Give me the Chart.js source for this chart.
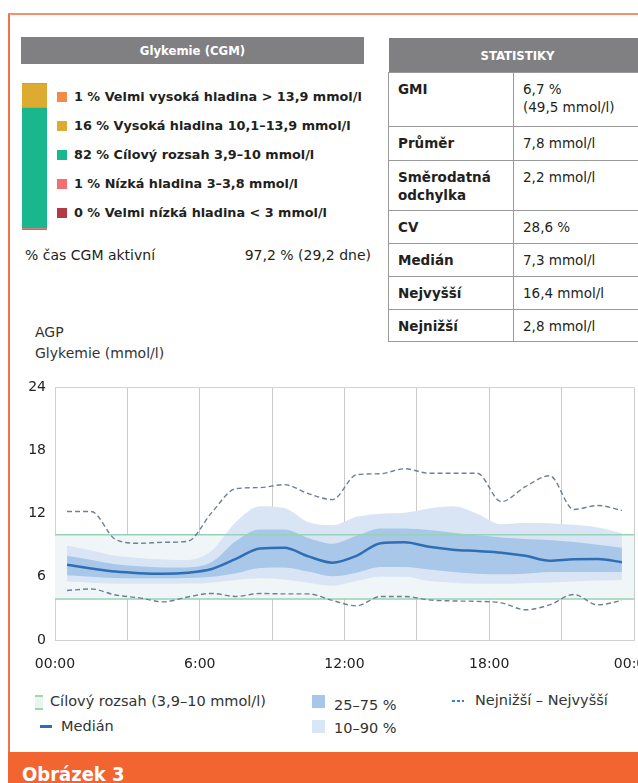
<!DOCTYPE html>
<html>
<head>
<meta charset="utf-8">
<script src="https://cdn.jsdelivr.net/npm/chart.js@4.4.1/dist/chart.umd.min.js"></script>
<style>
  body { margin: 0; width: 638px; height: 783px; overflow: hidden; background: #fff;
         font-family: 'DejaVu Sans', sans-serif; color: #231f20; position: relative; }
  .abs { position: absolute; }
  .cond { font-family: 'DejaVu Sans Condensed', 'DejaVu Sans', sans-serif; }
  .frame { left: 8px; top: 13px; width: 700px; height: 760px; border-top: 2px solid #f6906a; border-left: 2px solid #f27446; }
  .band { left: 8px; top: 752px; width: 640px; height: 40px; background: #f26531; }
  .band span { position: absolute; left: 14px; top: 10px; color: #fff; font-weight: bold; font-size: 20px; }
  .ghead { left: 21px; top: 37px; width: 343px; height: 27px; background: #808083; color: #fff; font-weight: bold; font-size: 13px; text-align: center; line-height: 27px; }
  .lrow { left: 57px; font-size: 12.8px; font-weight: bold; line-height: 16px; }
  .lrow i { display: inline-block; width: 10px; height: 10px; margin-right: 7px; vertical-align: -1px; }
  .stats { left: 388px; top: 38px; width: 272px; table-layout: fixed; border-collapse: collapse; font-size: 13.5px; }
  .stats th { background: #808083; color: #fff; height: 34px; padding: 0; font-weight: bold; text-align: left; text-indent: 92px; font-size: 13px; }
  .stats td { border: 1px solid #9a9a9a; vertical-align: top; padding: 7px 6px 0 9px; line-height: 18px; }
  .stats td.k { font-weight: bold; }
  .leg { font-size: 14.5px; color: #333; line-height: 18px; }
  .dash { height: 2px; background: repeating-linear-gradient(to right, #3f7fc6 0 3px, transparent 3px 5px); }
</style>
</head>
<body>
<div class="abs frame"></div>
<div class="abs ghead cond">Glykemie (CGM)</div>
<canvas id="tir" class="abs" width="25" height="147" style="left:22px;top:83px;width:25px;height:147px"></canvas>
<div id="tirLegend"></div>
<div class="abs" style="left:25px;top:247px;font-size:14px">% čas CGM aktivní</div>
<div class="abs" style="left:200px;width:171px;top:247px;font-size:14px;text-align:right">97,2 % (29,2 dne)</div>

<table class="abs stats">
  <colgroup><col style="width:125px"><col style="width:147px"></colgroup>
  <tr><th colspan="2" class="cond">STATISTIKY</th></tr>
  <tr style="height:54px"><td class="k">GMI</td><td>6,7 %<br>(49,5 mmol/l)</td></tr>
  <tr style="height:34px"><td class="k">Průměr</td><td>7,8 mmol/l</td></tr>
  <tr style="height:50px"><td class="k">Směrodatná<br>odchylka</td><td>2,2 mmol/l</td></tr>
  <tr style="height:33px"><td class="k">CV</td><td>28,6 %</td></tr>
  <tr style="height:33px"><td class="k">Medián</td><td>7,3 mmol/l</td></tr>
  <tr style="height:33px"><td class="k">Nejvyšší</td><td>16,4 mmol/l</td></tr>
  <tr style="height:32px"><td class="k">Nejnižší</td><td>2,8 mmol/l</td></tr>
</table>

<div class="abs" style="left:35px;top:322px;font-size:14px;line-height:21px;color:#333">AGP<br>Glykemie (mmol/l)</div>
<canvas id="agp" class="abs" width="680" height="300" style="left:0;top:370px;width:680px;height:300px"></canvas>

<div class="abs" style="left:35px;top:695px;width:8px;height:11px;background:#e9f5ee;border-top:2px solid #9fd6b4;border-bottom:2px solid #9fd6b4"></div>
<div class="abs leg" style="left:50px;top:692px">Cílový rozsah (3,9–10 mmol/l)</div>
<div class="abs" style="left:40px;top:725px;width:12px;height:3px;background:#2f6eb5"></div>
<div class="abs leg" style="left:61px;top:717px">Medián</div>
<div class="abs" style="left:312px;top:695px;width:13px;height:13px;background:#a7c7ea"></div>
<div class="abs leg" style="left:334px;top:696px">25–75 %</div>
<div class="abs" style="left:312px;top:720px;width:13px;height:13px;background:#d9e6f6"></div>
<div class="abs leg" style="left:334px;top:719px">10–90 %</div>
<div class="abs dash" style="left:452px;top:700px;width:12px"></div>
<div class="abs leg" style="left:475px;top:691px">Nejnižší – Nejvyšší</div>

<div class="abs band cond"><span>Obrázek 3</span></div>

<script>
// time in range (top to bottom as in the legend)
const tirLabels = ['Velmi vysoká hladina > 13,9 mmol/l', 'Vysoká hladina 10,1–13,9 mmol/l',
  'Cílový rozsah 3,9–10 mmol/l', 'Nízká hladina 3–3,8 mmol/l', 'Velmi nízká hladina < 3 mmol/l'];
const tirValues = [1, 16, 82, 1, 0];
const tirColors = ['#f28a48', '#dcab2f', '#19b78e', '#f26f72', '#b33a44'];

// AGP profile, hourly
const hours = [0.5, 1.5, 2.5, 3.5, 4.5, 5.5, 6.5, 7.5, 8.5, 9.5, 10.5, 11.5,
  12.5, 13.5, 14.5, 15.5, 16.5, 17.5, 18.5, 19.5, 20.5, 21.5, 22.5, 23.5];
const median = [7.14, 6.8, 6.5, 6.35, 6.3, 6.4, 6.75, 7.7, 8.7, 8.76, 7.95, 7.35,
  8.0, 9.2, 9.28, 8.85, 8.58, 8.45, 8.3, 8.0, 7.54, 7.68, 7.7, 7.39];
const p25 = [6.16, 6.0, 5.88, 5.86, 5.86, 5.9, 6.0, 6.35, 6.85, 6.9, 6.5, 6.05,
  6.4, 6.93, 6.93, 6.7, 6.45, 6.3, 6.25, 6.3, 6.47, 6.47, 6.47, 6.47];
const p75 = [8.0, 7.6, 7.2, 7.0, 6.9, 6.9, 7.4, 9.4, 10.5, 10.5, 9.7, 9.15,
  9.9, 10.6, 10.6, 10.45, 10.2, 9.95, 9.75, 9.6, 9.5, 9.3, 9.05, 8.76];
const p10 = [5.55, 5.45, 5.35, 5.34, 5.34, 5.36, 5.45, 5.7, 5.86, 5.75, 5.45, 5.15,
  5.6, 6.0, 6.0, 5.6, 5.45, 5.35, 5.34, 5.4, 5.46, 5.55, 5.65, 5.7];
const p90 = [8.97, 8.5, 8.0, 7.8, 7.65, 7.6, 8.5, 11.2, 12.7, 12.55, 11.2, 10.9,
  11.7, 12.0, 12.1, 12.5, 12.7, 12.0, 11.0, 11.15, 11.1, 10.95, 10.7, 10.14];
const maxes = [12.21, 12.21, 9.57, 9.19, 9.28, 9.38, 12.12, 14.38, 14.48, 14.76, 13.91, 13.34,
  15.7, 15.8, 16.27, 15.84, 15.84, 15.84, 13.15, 14.57, 15.61, 12.4, 12.78, 12.31];
const mins = [4.71, 4.85, 4.28, 4.0, 3.62, 4.09, 4.42, 4.14, 4.42, 4.38, 4.38, 3.76,
  3.24, 4.14, 4.14, 3.81, 3.71, 3.67, 3.53, 2.87, 3.34, 4.33, 3.34, 3.76];

const targetLow = 3.9;
const targetHigh = 10;
const xTickLabels = ['00:00', '6:00', '12:00', '18:00', '00:00'];
const yTicks = [0, 6, 12, 18, 24];

Chart.defaults.font.family = "'DejaVu Sans', sans-serif";
Chart.defaults.animation = false;

// legend rows next to the bar
const legendTop = [89, 118, 147, 176, 205];
document.getElementById('tirLegend').innerHTML = tirLabels.map((l, i) =>
  `<div class="abs lrow" style="top:${legendTop[i]}px"><i style="background:${tirColors[i]}"></i>${tirValues[i]} % ${l}</div>`
).join('');

new Chart(document.getElementById('tir'), {
  type: 'bar',
  data: {
    labels: [''],
    datasets: tirValues.map((v, i) => ({
      data: [v], backgroundColor: tirColors[i], barPercentage: 1, categoryPercentage: 1
    })).reverse()
  },
  options: {
    responsive: false,
    layout: { padding: 0 },
    plugins: { legend: { display: false }, tooltip: { enabled: false } },
    scales: {
      x: { stacked: true, display: false },
      y: { stacked: true, display: false, min: 0, max: 100 }
    }
  }
});

const pts = arr => hours.map((h, i) => ({ x: h, y: arr[i] }));
const flat = v => [{ x: 0, y: v }, { x: 24, y: v }];
const curve = { pointRadius: 0, cubicInterpolationMode: 'monotone' };

new Chart(document.getElementById('agp'), {
  type: 'line',
  data: {
    datasets: [
      { ...curve, data: pts(median), borderColor: '#2f6eb5', borderWidth: 2.5, fill: false, order: 1 },
      { ...curve, data: pts(maxes), borderColor: '#6f7f93', borderWidth: 1.4, borderDash: [5, 3], fill: false, order: 2 },
      { ...curve, data: pts(mins), borderColor: '#6f7f93', borderWidth: 1.4, borderDash: [5, 3], fill: false, order: 3 },
      { ...curve, data: pts(p75), borderWidth: 0, borderColor: 'transparent', backgroundColor: '#a9c7e9', fill: 4, order: 5 },
      { ...curve, data: pts(p25), borderWidth: 0, borderColor: 'transparent', fill: false, order: 6 },
      { ...curve, data: pts(p90), borderWidth: 0, borderColor: 'transparent', backgroundColor: '#d9e5f5', fill: 6, order: 7 },
      { ...curve, data: pts(p10), borderWidth: 0, borderColor: 'transparent', fill: false, order: 8 },
      { pointRadius: 0, data: flat(targetHigh), borderColor: '#95d3b6', borderWidth: 1.5, backgroundColor: '#f0f6f7', fill: 8, order: 9 },
      { pointRadius: 0, data: flat(targetLow), borderColor: '#95d3b6', borderWidth: 1.5, fill: false, order: 10 }
    ]
  },
  options: {
    responsive: false,
    layout: { padding: { top: 9, right: 46, bottom: 0, left: 0 } },
    plugins: {
      legend: { display: false }, tooltip: { enabled: false },
      filler: { drawTime: 'beforeDatasetsDraw' }
    },
    scales: {
      x: {
        type: 'linear', min: 0, max: 24,
        afterFit: s => { s.height = 30; },
        border: { display: true, color: '#d2d2d2' },
        grid: { color: '#cbcbcb', drawTicks: false },
        ticks: {
          stepSize: 3, autoSkip: false, maxRotation: 0, padding: 16,
          color: '#222', font: { size: 14 },
          callback: v => (v % 6 === 0 ? xTickLabels[v / 6] : '')
        }
      },
      y: {
        min: 0, max: 24,
        afterFit: s => { s.width = 55; },
        afterBuildTicks: s => { s.ticks = yTicks.map(v => ({ value: v })); },
        border: { display: true, color: '#d2d2d2' },
        grid: { drawTicks: false, color: c => (c.tick && c.tick.value === 24 ? '#d2d2d2' : 'transparent') },
        ticks: { padding: 9, color: '#222', font: { size: 14 } }
      }
    }
  }
});
</script>
</body>
</html>
